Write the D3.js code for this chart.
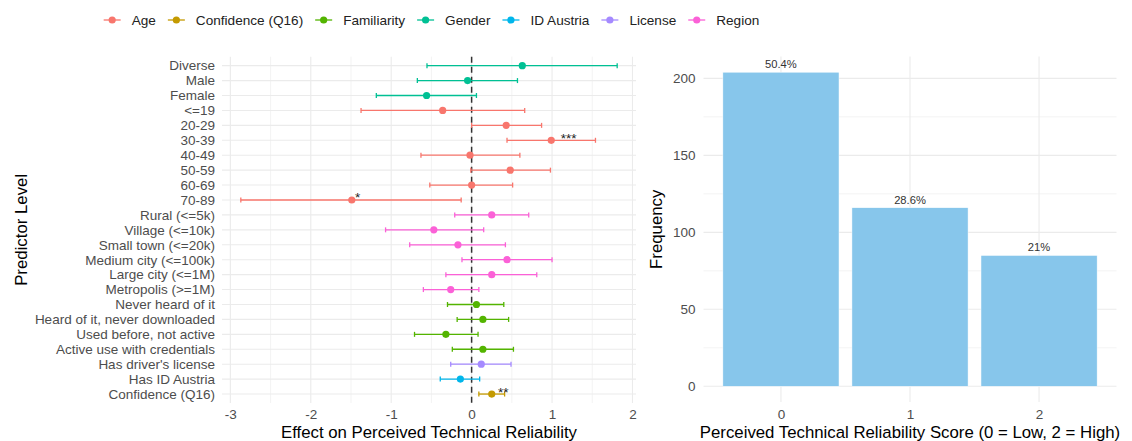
<!DOCTYPE html>
<html>
<head>
<meta charset="utf-8">
<script src="https://cdn.jsdelivr.net/npm/d3@7"></script>
<style>
  html, body { margin: 0; padding: 0; background: #fff; }
  svg { display: block; font-family: "Liberation Sans", Arial, Helvetica, sans-serif; }
</style>
</head>
<body>
<svg id="chart" width="1132" height="441"></svg>
<script>
// ---- Regression coefficients (ordinal model), top to bottom ----
const levels = [
  "Diverse", "Male", "Female",
  "<=19", "20-29", "30-39", "40-49", "50-59", "60-69", "70-89",
  "Rural (<=5k)", "Village (<=10k)", "Small town (<=20k)", "Medium city (<=100k)",
  "Large city (<=1M)", "Metropolis (>=1M)",
  "Never heard of it", "Heard of it, never downloaded", "Used before, not active",
  "Active use with credentials",
  "Has driver's license", "Has ID Austria", "Confidence (Q16)"
];
const predictor = [
  "Gender", "Gender", "Gender",
  "Age", "Age", "Age", "Age", "Age", "Age", "Age",
  "Region", "Region", "Region", "Region", "Region", "Region",
  "Familiarity", "Familiarity", "Familiarity", "Familiarity",
  "License", "ID Austria", "Confidence (Q16)"
];
const estimate = [0.63, -0.05, -0.56, -0.36, 0.43, 0.99, -0.02, 0.48, 0.00, -1.49,
  0.25, -0.47, -0.17, 0.44, 0.25, -0.26, 0.06, 0.14, -0.32, 0.14, 0.12, -0.14, 0.25];
const ciLow = [-0.555, -0.675, -1.185, -1.375, 0.00, 0.44, -0.63, -0.01, -0.52, -2.87,
  -0.21, -1.07, -0.77, -0.12, -0.32, -0.60, -0.30, -0.18, -0.71, -0.24, -0.26, -0.39, 0.09];
const ciHigh = [1.81, 0.57, 0.06, 0.66, 0.87, 1.54, 0.60, 0.98, 0.51, -0.13,
  0.71, 0.15, 0.42, 1.00, 0.81, 0.09, 0.40, 0.46, 0.08, 0.52, 0.49, 0.10, 0.41];
const signif = ["", "", "", "", "", "***", "", "", "", "*",
  "", "", "", "", "", "", "", "", "", "", "", "", "**"];

const predictorGroups = ["Age", "Confidence (Q16)", "Familiarity", "Gender", "ID Austria", "License", "Region"];
const groupColors = ["#F8766D", "#C49A00", "#53B400", "#00C094", "#00B6EB", "#A58AFF", "#FB61D7"];
const effectTicks = [-3, -2, -1, 0, 1, 2];

// ---- Score distribution ----
const scores = ["0", "1", "2"];
const counts = [204, 116, 85];
const freqTicks = [0, 50, 100, 150, 200];

const svg = d3.select("#chart");
const gridMajor = "#EBEBEB";
const tickText = "#4D4D4D";
const fontTick = 13.5, fontTitle = 16.8;

// ================= Left panel: coefficient plot =================
const L = { left: 222, right: 636, top: 56.7, bottom: 403 };
const lo = d3.min(ciLow), hi = d3.max(ciHigh), pad = (hi - lo) * 0.05;
const x = d3.scaleLinear().domain([lo - pad, hi + pad]).range([L.left, L.right]);
const y = d3.scalePoint().domain(levels).range([L.top, L.bottom]).padding(0.6);
const color = d3.scaleOrdinal().domain(predictorGroups).range(groupColors);

const left = svg.append("g");
// minor vertical grid
const xMinor = d3.range(Math.ceil(x.domain()[0] * 2) / 2, x.domain()[1], 0.5).filter(v => Math.abs(v % 1) === 0.5);
left.selectAll("line.xminor").data(xMinor).join("line")
  .attr("x1", d => x(d)).attr("x2", d => x(d)).attr("y1", L.top).attr("y2", L.bottom)
  .attr("stroke", gridMajor).attr("stroke-width", 0.6);
// major grid
left.selectAll("line.xmajor").data(effectTicks).join("line")
  .attr("x1", d => x(d)).attr("x2", d => x(d)).attr("y1", L.top).attr("y2", L.bottom)
  .attr("stroke", gridMajor).attr("stroke-width", 1.1);
left.selectAll("line.ymajor").data(levels).join("line")
  .attr("x1", L.left).attr("x2", L.right).attr("y1", d => y(d)).attr("y2", d => y(d))
  .attr("stroke", gridMajor).attr("stroke-width", 1.1);

// axes
const xAxisL = left.append("g").attr("transform", `translate(0,${L.bottom})`)
  .call(d3.axisBottom(x).tickValues(effectTicks).tickSize(0).tickPadding(6).tickFormat(d3.format("d")));
const yAxisL = left.append("g").attr("transform", `translate(${L.left},0)`)
  .call(d3.axisLeft(y).tickSize(0).tickPadding(7));
[xAxisL, yAxisL].forEach(a => {
  a.select(".domain").remove();
  a.selectAll("text").attr("fill", tickText).style("font-size", fontTick + "px")
    .style("font-family", "'Liberation Sans', Arial, sans-serif");
});
xAxisL.selectAll("text").text(d => d < 0 ? "-" + Math.abs(d) : d);

// zero reference
left.append("line")
  .attr("x1", x(0)).attr("x2", x(0)).attr("y1", L.top).attr("y2", L.bottom)
  .attr("stroke", "#333").attr("stroke-width", 1.5).attr("stroke-dasharray", "6,4");

// error bars
const rows = levels.map((lv, i) => ({ lv, grp: predictor[i], est: estimate[i], lo: ciLow[i], hi: ciHigh[i], sig: signif[i] }));
const eb = left.selectAll("g.eb").data(rows).join("g").attr("stroke", d => color(d.grp)).attr("stroke-width", 1.3);
eb.append("line").attr("x1", d => x(d.lo)).attr("x2", d => x(d.hi)).attr("y1", d => y(d.lv)).attr("y2", d => y(d.lv));
eb.append("line").attr("x1", d => x(d.lo)).attr("x2", d => x(d.lo)).attr("y1", d => y(d.lv) - 2.5).attr("y2", d => y(d.lv) + 2.5);
eb.append("line").attr("x1", d => x(d.hi)).attr("x2", d => x(d.hi)).attr("y1", d => y(d.lv) - 2.5).attr("y2", d => y(d.lv) + 2.5);

// points
left.selectAll("circle.pt").data(rows).join("circle")
  .attr("cx", d => x(d.est)).attr("cy", d => y(d.lv)).attr("r", 3.6)
  .attr("fill", d => color(d.grp));

// significance stars
left.selectAll("text.sig").data(rows.filter(d => d.sig)).join("text")
  .attr("y", d => y(d.lv) + 2.5)
  .attr("fill", "#222").style("font-size", "13.5px")
  .text(d => d.sig)
  .each(function (d) {
    const w = this.getComputedTextLength();
    d3.select(this).attr("x", x(d.est) + 0.6 * w);
  });

// titles
svg.append("text").attr("x", (L.left + L.right) / 2).attr("y", 437.5)
  .attr("text-anchor", "middle").style("font-size", fontTitle + "px").attr("fill", "#000")
  .text("Effect on Perceived Technical Reliability");
svg.append("text").attr("transform", `translate(26.5,${(L.top + L.bottom) / 2}) rotate(-90)`)
  .attr("text-anchor", "middle").style("font-size", fontTitle + "px").attr("fill", "#000")
  .text("Predictor Level");

// legend
const legend = svg.append("g");
let cx = 0;
predictorGroups.forEach((g, i) => {
  const it = legend.append("g").attr("transform", `translate(${cx},20)`);
  it.append("line").attr("x1", 0).attr("x2", 17).attr("stroke", groupColors[i]).attr("stroke-width", 1.3);
  it.append("circle").attr("cx", 8.5).attr("r", 3.6).attr("fill", groupColors[i]);
  const t = it.append("text").attr("x", 28).attr("y", 5).style("font-size", "13.6px").attr("fill", "#222").text(g);
  cx += 28 + t.node().getComputedTextLength() + 12;
});
const legendW = cx - 12;
legend.attr("transform", `translate(${431.5 - legendW / 2},0)`);

// ================= Right panel: score distribution =================
const R = { left: 703.5, right: 1116.5, top: 56.5, bottom: 402 };
const total = d3.sum(counts);
const xb = d3.scaleLinear().domain([-0.6, scores.length - 1 + 0.6]).range([R.left, R.right]);
const ymax = d3.max(counts);
const yb = d3.scaleLinear().domain([-ymax * 0.05, ymax * 1.05]).range([R.bottom, R.top]);

const right = svg.append("g");
const minorY = d3.range(25, ymax * 1.05, 50);
right.selectAll("line.yminor").data(minorY).join("line")
  .attr("x1", R.left).attr("x2", R.right).attr("y1", d => yb(d)).attr("y2", d => yb(d))
  .attr("stroke", gridMajor).attr("stroke-width", 0.6);
right.selectAll("line.ymajor").data(freqTicks).join("line")
  .attr("x1", R.left).attr("x2", R.right).attr("y1", d => yb(d)).attr("y2", d => yb(d))
  .attr("stroke", gridMajor).attr("stroke-width", 1.1);
right.selectAll("line.xmajor").data(scores).join("line")
  .attr("x1", (d, i) => xb(i)).attr("x2", (d, i) => xb(i)).attr("y1", R.top).attr("y2", R.bottom)
  .attr("stroke", gridMajor).attr("stroke-width", 1.1);

right.selectAll("rect.bar").data(counts).join("rect")
  .attr("x", (d, i) => xb(i - 0.45)).attr("width", (d, i) => xb(i + 0.45) - xb(i - 0.45))
  .attr("y", d => yb(d)).attr("height", d => yb(0) - yb(d))
  .attr("fill", "#87C6EB").attr("stroke", "#ffffff").attr("stroke-width", 0.5);

right.selectAll("text.lab").data(counts).join("text")
  .attr("x", (d, i) => xb(i)).attr("y", d => yb(d) - 4)
  .attr("text-anchor", "middle").style("font-size", "11.2px").attr("fill", "#333")
  .text(d => (+(d / total * 100).toFixed(1)) + "%");

const xAxisR = right.append("g").attr("transform", `translate(0,${R.bottom})`)
  .call(d3.axisBottom(xb).tickValues(scores.map((s, i) => i)).tickSize(0).tickPadding(7).tickFormat((d) => scores[d]));
const yAxisR = right.append("g").attr("transform", `translate(${R.left},0)`)
  .call(d3.axisLeft(yb).tickValues(freqTicks).tickSize(0).tickPadding(8));
[xAxisR, yAxisR].forEach(a => {
  a.select(".domain").remove();
  a.selectAll("text").attr("fill", tickText).style("font-size", fontTick + "px")
    .style("font-family", "'Liberation Sans', Arial, sans-serif");
});

svg.append("text").attr("x", (R.left + R.right) / 2).attr("y", 437.5)
  .attr("text-anchor", "middle").style("font-size", fontTitle + "px").attr("fill", "#000")
  .text("Perceived Technical Reliability Score (0 = Low, 2 = High)");
svg.append("text").attr("transform", `translate(662,${(R.top + R.bottom) / 2}) rotate(-90)`)
  .attr("text-anchor", "middle").style("font-size", fontTitle + "px").attr("fill", "#000")
  .text("Frequency");
</script>
</body>
</html>
